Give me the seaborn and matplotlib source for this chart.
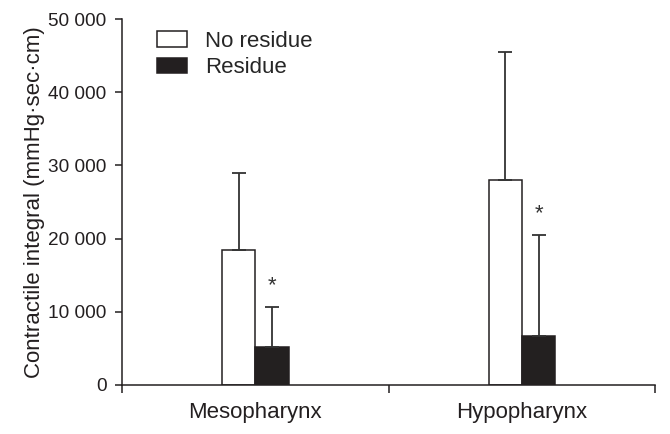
import matplotlib
matplotlib.use("Agg")
import matplotlib.pyplot as plt
import seaborn as sns
import pandas as pd
import numpy as np
from matplotlib.patches import Patch

regions = ["Mesopharynx", "Hypopharynx"]
groups = ["No residue", "Residue"]
mean_no_residue = [18500, 28000]
sd_no_residue = [10500, 17500]
mean_residue = [5200, 6700]
sd_residue = [5500, 13800]
yticks = [0, 10000, 20000, 30000, 40000, 50000]
ytick_labels = ["0", "10 000", "20 000", "30 000", "40 000", "50 000"]

df = pd.DataFrame({
    "region": regions * 2,
    "group": [groups[0]] * 2 + [groups[1]] * 2,
    "value": mean_no_residue + mean_residue,
    "sd": sd_no_residue + sd_residue,
})

sns.set_style("ticks")
plt.rcParams['font.family'] = ['Liberation Sans', 'DejaVu Sans']

fig, ax = plt.subplots(figsize=(6.7, 4.34), dpi=100)
fig.subplots_adjust(left=0.182, right=0.978, top=0.956, bottom=0.113)

dark = "#231f20"
sns.barplot(data=df, x="region", y="value", hue="group", order=regions,
            hue_order=groups, palette={groups[0]: "white", groups[1]: dark},
            width=0.25, edgecolor=dark, linewidth=1.1, errorbar=None,
            legend=False, ax=ax)

# one-sided error bars using the bar patches positions
bars = [p for p in ax.patches if p.get_height() > 0]
sds = {(g, r): s for g, r, s in zip(df["group"], df["region"], df["sd"])}
idx = 0
for gi, g in enumerate(groups):
    for ri, r in enumerate(regions):
        p = bars[idx]
        idx += 1
        xc = p.get_x() + p.get_width() / 2
        h = p.get_height()
        s = sds[(g, r)]
        ax.errorbar([xc], [h], yerr=[[0], [s]], fmt="none", ecolor="#333333",
                    elinewidth=1.3, capsize=4.8, capthick=1.3, zorder=1)
        if gi == 1:
            ax.text(xc, h + s + 1500, "*", ha="center", va="bottom",
                    fontsize=16, color="#333333")

ax.set_xlim(-0.5, 1.5)
ax.set_ylim(0, 50000)
ax.set_yticks(yticks)
ax.set_yticklabels(ytick_labels)
ax.set_xlabel("")
ax.set_ylabel("Contractile integral (mmHg·sec·cm)", fontsize=16, color=dark, labelpad=2)
ax.tick_params(axis="y", labelsize=13.7, length=5.2, width=1.1, pad=6, colors=dark)
ax.tick_params(axis="x", which="major", length=0, labelsize=16, pad=12, colors=dark)
ax.set_xticks([-0.5, 0.5, 1.5], minor=True)
ax.tick_params(axis="x", which="minor", length=6, width=1.1, direction="in", colors=dark)
for t in ax.xaxis.get_minorticklines():
    t.set_marker(matplotlib.markers.TICKDOWN)
    t.set_markersize(6)
sns.despine(ax=ax)
for sp in ["left", "bottom"]:
    ax.spines[sp].set_linewidth(1.1)
    ax.spines[sp].set_color(dark)

handles = [Patch(facecolor="white", edgecolor=dark, linewidth=1.1, label=groups[0]),
           Patch(facecolor=dark, edgecolor=dark, linewidth=1.1, label=groups[1])]
ax.legend(handles=handles, loc="upper left", bbox_to_anchor=(0.066, 0.968),
          borderaxespad=0, borderpad=0,
          frameon=False, fontsize=16, handlelength=1.35, handleheight=0.68,
          handletextpad=0.8, labelspacing=0.25)

fig.savefig("out.png", dpi=100)
